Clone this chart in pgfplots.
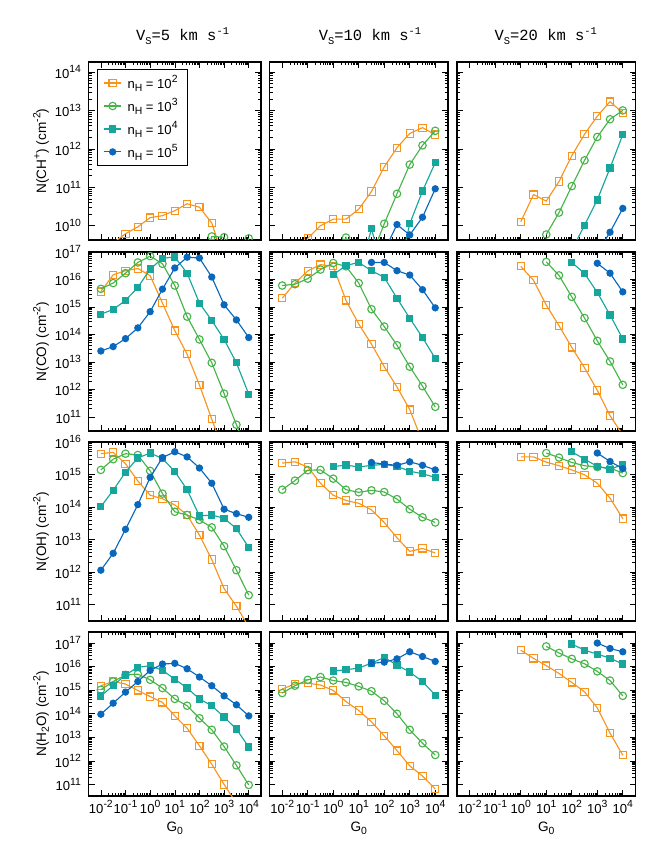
\documentclass[border=0pt]{standalone}
\usepackage{pgfplots}
\pgfplotsset{compat=1.18}
\usepackage{fontspec}
\setmainfont{Liberation Sans}
\newfontfamily\monofont{Liberation Mono}
\definecolor{corange}{RGB}{247,148,30}
\definecolor{cgreen}{RGB}{70,180,72}
\definecolor{cteal}{RGB}{22,166,155}
\definecolor{cblue}{RGB}{10,104,188}
\newcommand{\sups}[1]{\raisebox{0.42em}{\fontsize{7.8}{8}\selectfont #1}}
\newcommand{\subs}[1]{\raisebox{-0.22em}{\fontsize{7.8}{8}\selectfont #1}}
\newcommand{\E}[1]{10\sups{#1}}
\tikzset{
  serA/.style={color=corange, mark=square, mark size=2.7pt, line width=0.85pt, mark options={solid}},
  serB/.style={color=cgreen, mark=o, mark size=2.8pt, line width=0.85pt, mark options={solid}},
  serC/.style={color=cteal, mark=square*, mark size=2.3pt, line width=0.85pt, mark options={solid}},
  serD/.style={color=cblue, mark=*, mark size=2.3pt, line width=0.85pt, mark options={solid}},
}
\pgfplotsset{every axis/.append style={scale only axis, xmode=log, ymode=log,
    xmin=3.162e-3, xmax=3.162e4,
    xtick={1e-2,1e-1,1,10,100,1000,1e4}, xticklabels={}, yticklabels={},
    tick align=inside, axis line style={line width=1.2pt},
    major tick length=4.5pt, minor tick length=2.5pt,
    every tick/.style={black, line width=0.45pt},
    clip marker paths=true,
    tick label style={font=\fontsize{9.8}{10}\selectfont},
    yticklabel style={xshift=-2.2pt},
    anchor=north west}}
\begin{document}
\begin{tikzpicture}
\useasboundingbox (0,0) rectangle (500.25pt,-636.75pt);
% titles
\node[anchor=base, font=\monofont\fontsize{11.6}{12}\selectfont] at (136.9pt,-30.5pt) {V\subs{S}=5 km s\sups{-1}};
\node[anchor=base, font=\monofont\fontsize{11.6}{12}\selectfont] at (277.5pt,-30.5pt) {V\subs{S}=10 km s\sups{-1}};
\node[anchor=base, font=\monofont\fontsize{11.6}{12}\selectfont] at (409.3pt,-30.5pt) {V\subs{S}=20 km s\sups{-1}};
% y labels
\node[anchor=base, rotate=90, font=\fontsize{10.2}{11}\selectfont] at (34.5pt,-113.25pt) {N(CH\sups{+}) (cm\sups{-2})};
\node[anchor=base, rotate=90, font=\fontsize{10.2}{11}\selectfont] at (34.5pt,-256.1pt) {N(CO) (cm\sups{-2})};
\node[anchor=base, rotate=90, font=\fontsize{10.2}{11}\selectfont] at (34.5pt,-398.6pt) {N(OH) (cm\sups{-2})};
\node[anchor=base, rotate=90, font=\fontsize{10.2}{11}\selectfont] at (34.5pt,-535.5pt) {N(H\subs{2}O) (cm\sups{-2})};
% x labels
\node[anchor=base, font=\fontsize{10.2}{11}\selectfont] at (131.1pt,-623.6pt) {G\subs{0}};
\node[anchor=base, font=\fontsize{10.2}{11}\selectfont] at (269.1pt,-623.6pt) {G\subs{0}};
\node[anchor=base, font=\fontsize{10.2}{11}\selectfont] at (409.7pt,-623.6pt) {G\subs{0}};

% ---------------- Row 1: CH+
\begin{axis}[width=129.4pt, height=133.5pt, ymin=4.24e9, ymax=1.82e14, ytick={1e10,1e11,1e12,1e13,1e14},
  at={(66.4pt,-46.5pt)},
  yticklabels={\E{10},\E{11},\E{12},\E{13},\E{14}},
  legend style={at={(0.0475,0.959)}, anchor=north west, draw=black, line width=0.5pt,
    font=\fontsize{9.8}{10}\selectfont, row sep=2.2pt, column sep=2.5pt, inner xsep=5pt, inner ysep=2.5pt},
  legend cell align=left,
  legend image code/.code={\draw[mark repeat=2,mark phase=2] plot coordinates {(0cm,0cm) (0.22cm,0cm) (0.44cm,0cm)};}]
\addplot[serA] coordinates {(1e-2,1e9)(3.16e-2,3.55e9)(0.1,6.17e9)(0.316,9.33e9)(1,1.62e10)(3.16,1.82e10)(10,2.45e10)(31.6,3.72e10)(100,3.02e10)(316,1.175e10)(1000,1.26e9)};
\addplot[serB] coordinates {(100,3e8)(316,5.25e9)(1000,5.01e9)(3162,3e8)(1e4,4.68e9)};
\addlegendimage{serC}
\addlegendimage{serD}
\legend{n\subs{H} = \E{2}, n\subs{H} = \E{3}, n\subs{H} = \E{4}, n\subs{H} = \E{5}}
\end{axis}
\begin{axis}[width=133.9pt, height=133.5pt, ymin=4.24e9, ymax=1.82e14, ytick={1e10,1e11,1e12,1e13,1e14}, at={(202.1pt,-46.5pt)}]
\addplot[serA] coordinates {(1e-2,3.16e8)(3.16e-2,6.3e8)(0.1,4.68e9)(0.316,1e10)(1,1.48e10)(3.16,1.48e10)(10,2.69e10)(31.6,7.76e10)(100,3.39e11)(316,1.07e12)(1000,2.51e12)(3162,3.55e12)(1e4,2.34e12)};
\addplot[serB] coordinates {(1e-2,3.16e8)(3.16e-2,4e8)(0.1,5e8)(0.316,6.3e8)(1,1e9)(3.16,4.9e9)(10,1e9)(31.6,1.58e9)(100,1.12e10)(316,6.76e10)(1000,3.89e11)(3162,1.23e12)(1e4,2.95e12)};
\addplot[serC] coordinates {(1,6.3e8)(3.16,6.3e8)(10,5e8)(31.6,8.32e9)(100,5e8)(316,4e8)(1000,1.12e10)(3162,7.94e10)(1e4,4.37e11)};
\addplot[serD] coordinates {(31.6,1e9)(100,2.19e9)(316,1.07e10)(1000,5.75e9)(3162,1.66e10)(1e4,9.12e10)};
\end{axis}
\begin{axis}[width=133.9pt, height=133.5pt, ymin=4.24e9, ymax=1.82e14, ytick={1e10,1e11,1e12,1e13,1e14}, at={(342.75pt,-46.5pt)}]
\addplot[serA] coordinates {(1,1.26e10)(3.16,6.46e10)(10,4.37e10)(31.6,1.41e11)(100,6.61e11)(316,2.40e12)(1000,7.08e12)(3162,1.70e13)(1e4,8.51e12)};
\addplot[serB] coordinates {(10,5.89e9)(31.6,2.19e10)(100,1.07e11)(316,5.01e11)(1000,2.04e12)(3162,5.89e12)(1e4,1e13)};
\addplot[serC] coordinates {(100,2.34e9)(316,1.02e10)(1000,4.68e10)(3162,3.16e11)(1e4,2.34e12)};
\addplot[serD] coordinates {(1000,2e9)(3162,6.76e9)(1e4,2.82e10)};
\end{axis}

% ---------------- Row 2: CO
\begin{axis}[width=129.4pt, height=134.25pt, ymin=3.1e10, ymax=1e17, ytick={1e11,1e12,1e13,1e14,1e15,1e16,1e17}, at={(66.4pt,-189pt)},
  yticklabels={\E{11},\E{12},\E{13},\E{14},\E{15},\E{16},\E{17}}]
\addplot[serA] coordinates {(1e-2,3.63e15)(3.16e-2,1.48e16)(0.1,2.09e16)(0.316,2.51e16)(1,1.38e16)(3.16,1.38e15)(10,1.38e14)(31.6,1.91e13)(100,1.45e12)(316,8.32e10)(1000,5e9)};
\addplot[serB] coordinates {(1e-2,4.57e15)(3.16e-2,7.41e15)(0.1,1.70e16)(0.316,4.17e16)(1,7.08e16)(3.16,3.72e16)(10,6.03e15)(31.6,4.47e14)(100,6.61e13)(316,9.33e12)(1000,7.08e11)(3162,5.25e10)(1e4,4e9)};
\addplot[serC] coordinates {(1e-2,5.50e14)(3.16e-2,8.13e14)(0.1,1.74e15)(0.316,5.13e15)(1,2.40e16)(3.16,5.89e16)(10,6.61e16)(31.6,1.70e16)(100,1.38e15)(316,3.24e14)(1000,6.61e13)(3162,9.33e12)(1e4,6.76e11)};
\addplot[serD] coordinates {(1e-2,2.51e13)(3.16e-2,3.63e13)(0.1,7.08e13)(0.316,1.74e14)(1,6.76e14)(3.16,4.47e15)(10,2.63e16)(31.6,6.46e16)(100,6.03e16)(316,1.23e16)(1000,1.20e15)(3162,3.39e14)(1e4,7.76e13)};
\end{axis}
\begin{axis}[width=133.9pt, height=134.25pt, ymin=3.1e10, ymax=1e17, ytick={1e11,1e12,1e13,1e14,1e15,1e16,1e17}, at={(202.1pt,-189pt)}]
\addplot[serA] coordinates {(1e-2,2.09e15)(3.16e-2,7.41e15)(0.1,2.04e16)(0.316,3.47e16)(1,3.02e16)(3.16,1.74e15)(10,2.40e14)(31.6,4.47e13)(100,6.76e12)(316,1.23e12)(1000,1.86e11)(3162,1.26e10)};
\addplot[serB] coordinates {(1e-2,6.03e15)(3.16e-2,6.76e15)(0.1,1.07e16)(0.316,2.29e16)(1,3.98e16)(3.16,3.02e16)(10,7.41e15)(31.6,8.32e14)(100,1.95e14)(316,4.07e13)(1000,6.76e12)(3162,1.32e12)(1e4,2.34e11)};
\addplot[serC] coordinates {(1,1.48e16)(3.16,3.24e16)(10,4.17e16)(31.6,2.09e16)(100,1.20e16)(316,2.09e15)(1000,3.89e14)(3162,7.76e13)(1e4,1.35e13)};
\addplot[serD] coordinates {(31.6,4.17e16)(100,4.17e16)(316,2.09e16)(1000,1.45e16)(3162,4.27e15)(1e4,9.33e14)};
\end{axis}
\begin{axis}[width=133.9pt, height=134.25pt, ymin=3.1e10, ymax=1e17, ytick={1e11,1e12,1e13,1e14,1e15,1e16,1e17}, at={(342.75pt,-189pt)}]
\addplot[serA] coordinates {(1,3.02e16)(3.16,9.33e15)(10,1.175e15)(31.6,2.09e14)(100,3.39e13)(316,6.17e12)(1000,9.33e11)(3162,1.12e11)(1e4,2.24e10)};
\addplot[serB] coordinates {(10,4.37e16)(31.6,1.41e16)(100,2.34e15)(316,3.98e14)(1000,5.89e13)(3162,1.05e13)(1e4,1.48e12)};
\addplot[serC] coordinates {(100,4.17e16)(316,1.66e16)(1000,3.39e15)(3162,5.13e14)(1e4,6.92e13)};
\addplot[serD] coordinates {(1000,3.89e16)(3162,1.70e16)(1e4,3.55e15)};
\end{axis}

% ---------------- Row 3: OH
\begin{axis}[width=129.4pt, height=134.25pt, ymin=3.05e10, ymax=1e16, ytick={1e11,1e12,1e13,1e14,1e15,1e16}, at={(66.4pt,-331.5pt)},
  yticklabels={\E{11},\E{12},\E{13},\E{14},\E{15},\E{16}}]
\addplot[serA] coordinates {(1e-2,4.37e15)(3.16e-2,4.79e15)(0.1,2.14e15)(0.316,6.31e14)(1,2.29e14)(3.16,1.78e14)(10,1.15e14)(31.6,5.62e13)(100,1.35e13)(316,2.40e12)(1000,3.02e11)(3162,8.71e10)(1e4,2e10)};
\addplot[serB] coordinates {(1e-2,1.38e15)(3.16e-2,2.95e15)(0.1,4.37e15)(0.316,3.98e15)(1,1.29e15)(3.16,2.57e14)(10,7.08e13)(31.6,5.62e13)(100,3.98e13)(316,2.34e13)(1000,6.17e12)(3162,1.12e12)(1e4,1.91e11)};
\addplot[serC] coordinates {(1e-2,1.02e14)(3.16e-2,3.24e14)(0.1,1.175e15)(0.316,3.24e15)(1,4.57e15)(3.16,3.09e15)(10,1.23e15)(31.6,3.39e14)(100,5.25e13)(316,5.62e13)(1000,4.47e13)(3162,2.14e13)(1e4,5.62e12)};
\addplot[serD] coordinates {(1e-2,1.12e12)(3.16e-2,3.72e12)(0.1,2.04e13)(0.316,1.175e14)(1,8.13e14)(3.16,3.31e15)(10,5.01e15)(31.6,3.47e15)(100,1.58e15)(316,5.37e14)(1000,8.51e13)(3162,6.17e13)(1e4,4.79e13)};
\end{axis}
\begin{axis}[width=133.9pt, height=134.25pt, ymin=3.05e10, ymax=1e16, ytick={1e11,1e12,1e13,1e14,1e15,1e16}, at={(202.1pt,-331.5pt)}]
\addplot[serA] coordinates {(1e-2,2.24e15)(3.16e-2,2.45e15)(0.1,1.70e15)(0.316,5.37e14)(1,2.29e14)(3.16,1.58e14)(10,1.29e14)(31.6,8.13e13)(100,3.31e13)(316,1.12e13)(1000,4.27e12)(3162,5.25e12)(1e4,3.80e12)};
\addplot[serB] coordinates {(1e-2,3.39e14)(3.16e-2,6.46e14)(0.1,1.35e15)(0.316,1.38e15)(1,7.41e14)(3.16,3.39e14)(10,2.82e14)(31.6,3.24e14)(100,2.88e14)(316,1.74e14)(1000,8.51e13)(3162,4.79e13)(1e4,3.31e13)};
\addplot[serC] coordinates {(1,1.74e15)(3.16,1.95e15)(10,1.70e15)(31.6,1.91e15)(100,2.04e15)(316,1.78e15)(1000,1.26e15)(3162,1.05e15)(1e4,8.13e14)};
\addplot[serD] coordinates {(31.6,2.34e15)(100,2.09e15)(316,1.91e15)(1000,2.45e15)(3162,1.91e15)(1e4,1.38e15)};
\end{axis}
\begin{axis}[width=133.9pt, height=134.25pt, ymin=3.05e10, ymax=1e16, ytick={1e11,1e12,1e13,1e14,1e15,1e16}, at={(342.75pt,-331.5pt)}]
\addplot[serA] coordinates {(1,3.47e15)(3.16,3.47e15)(10,2.40e15)(31.6,1.86e15)(100,1.38e15)(316,9.77e14)(1000,5.37e14)(3162,1.86e14)(1e4,4.37e13)};
\addplot[serB] coordinates {(10,4.57e15)(31.6,3.31e15)(100,2.34e15)(316,1.86e15)(1000,1.70e15)(3162,1.58e15)(1e4,1.10e15)};
\addplot[serC] coordinates {(100,5.01e15)(316,2.95e15)(1000,1.78e15)(3162,1.45e15)(1e4,2.0e15)};
\addplot[serD] coordinates {(1000,4.57e15)(3162,2.51e15)(1e4,1.51e15)};
\end{axis}

% ---------------- Row 4: H2O
\begin{axis}[width=129.4pt, height=123pt, ymin=3.24e10, ymax=2.95e17, ytick={1e11,1e12,1e13,1e14,1e15,1e16,1e17}, at={(66.4pt,-474pt)},
  xticklabels={\E{-2},\E{-1},\E{0},\E{1},\E{2},\E{3},\E{4}},
  yticklabels={\E{11},\E{12},\E{13},\E{14},\E{15},\E{16},\E{17}}]
\addplot[serA] coordinates {(1e-2,1.55e15)(3.16e-2,2.34e15)(0.1,1.82e15)(0.316,9.77e14)(1,5.37e14)(3.16,3.02e14)(10,8.13e13)(31.6,2.45e13)(100,4.37e12)(316,7.24e11)(1000,1e11)(3162,1.58e10)};
\addplot[serB] coordinates {(1e-2,1.05e15)(3.16e-2,2.34e15)(0.1,4.47e15)(0.316,4.79e15)(1,2.75e15)(3.16,1.23e15)(10,4.27e14)(31.6,2.19e14)(100,6.46e13)(316,2.09e13)(1000,4.07e12)(3162,6.46e11)(1e4,9.55e10)};
\addplot[serC] coordinates {(1e-2,5.75e14)(3.16e-2,1.55e15)(0.1,4.47e15)(0.316,9.33e15)(1,1.10e16)(3.16,6.92e15)(10,2.95e15)(31.6,1.23e15)(100,4.27e14)(316,2.19e14)(1000,7.24e13)(3162,2.24e13)(1e4,3.89e12)};
\addplot[serD] coordinates {(1e-2,9.55e13)(3.16e-2,2.82e14)(0.1,8.32e14)(0.316,2.34e15)(1,6.92e15)(3.16,1.29e16)(10,1.38e16)(31.6,8.13e15)(100,3.63e15)(316,1.55e15)(1000,5.75e14)(3162,2.40e14)(1e4,8.13e13)};
\end{axis}
\begin{axis}[width=133.9pt, height=123pt, ymin=3.24e10, ymax=2.95e17, ytick={1e11,1e12,1e13,1e14,1e15,1e16,1e17}, at={(202.1pt,-474pt)},
  xticklabels={\E{-2},\E{-1},\E{0},\E{1},\E{2},\E{3},\E{4}}]
\addplot[serA] coordinates {(1e-2,1.12e15)(3.16e-2,1.86e15)(0.1,2.0e15)(0.316,1.66e15)(1,9.77e14)(3.16,3.31e14)(10,1.38e14)(31.6,4.57e13)(100,1.15e13)(316,2.75e12)(1000,6.17e11)(3162,2.29e11)(1e4,6.46e10)};
\addplot[serB] coordinates {(1e-2,7.59e14)(3.16e-2,1.55e15)(0.1,2.75e15)(0.316,3.63e15)(1,2.57e15)(3.16,2.14e15)(10,1.45e15)(31.6,9.12e14)(100,3.55e14)(316,1e14)(1000,2.09e13)(3162,5.62e12)(1e4,1.78e12)};
\addplot[serC] coordinates {(1,6.46e15)(3.16,7.41e15)(10,8.71e15)(31.6,1.41e16)(100,2.45e16)(316,1.175e16)(1000,5.89e15)(3162,2.34e15)(1e4,6.17e14)};
\addplot[serD] coordinates {(31.6,1.38e16)(100,1.55e16)(316,2.14e16)(1000,4.27e16)(3162,2.69e16)(1e4,1.66e16)};
\end{axis}
\begin{axis}[width=133.9pt, height=123pt, ymin=3.24e10, ymax=2.95e17, ytick={1e11,1e12,1e13,1e14,1e15,1e16,1e17}, at={(342.75pt,-474pt)},
  xticklabels={\E{-2},\E{-1},\E{0},\E{1},\E{2},\E{3},\E{4}}]
\addplot[serA] coordinates {(1,5.01e16)(3.16,2.24e16)(10,1.10e16)(31.6,5.13e15)(100,2.14e15)(316,8.51e14)(1000,1.78e14)(3162,1.51e13)(1e4,1.74e12)};
\addplot[serB] coordinates {(10,7.24e16)(31.6,3.80e16)(100,2.14e16)(316,1.32e16)(1000,6.31e15)(3162,2.57e15)(1e4,5.75e14)};
\addplot[serC] coordinates {(100,9.12e16)(316,5.01e16)(1000,3.39e16)(3162,2.29e16)(1e4,1.29e16)};
\addplot[serD] coordinates {(1000,1e17)(3162,5.89e16)(1e4,4.27e16)};
\end{axis}
\end{tikzpicture}
\end{document}
